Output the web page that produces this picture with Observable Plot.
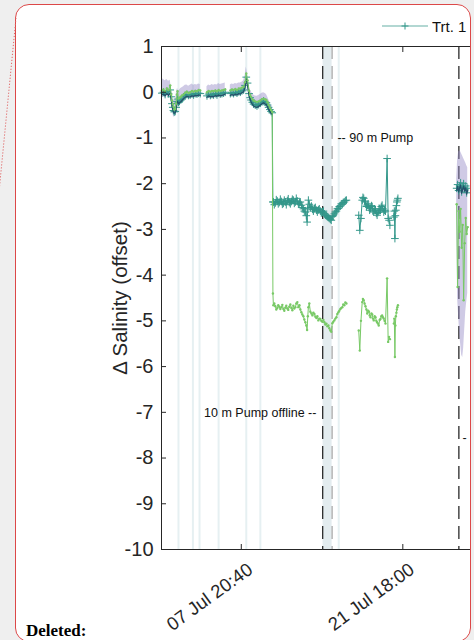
<!DOCTYPE html>
<html>
<head>
<meta charset="utf-8">
<script src="https://cdn.jsdelivr.net/npm/d3@7"></script>
<script src="https://cdn.jsdelivr.net/npm/@observablehq/plot@0.6"></script>
<style>
  html, body { margin: 0; padding: 0; }
  body {
    width: 474px; height: 640px; overflow: hidden; position: relative;
    background: #efefef;
    font-family: "Liberation Sans", Arial, Helvetica, sans-serif;
  }
  #page {
    position: absolute; left: 15px; top: 4px; width: 454px; height: 636px;
    border: 1px solid #dc4848; border-radius: 14px; background: #fff; overflow: hidden;
  }
  #chart, #overlay { position: absolute; left: -16px; top: -5px; width: 480px; }
  #chart svg { max-width: none !important; width: 480px; height: 640px; }
  #connector { position: absolute; left: 0; top: 0; }
</style>
</head>
<body>
<div id="page">
  <div id="chart"></div>
  <svg id="overlay" width="480" height="650"></svg>
</div>
<svg id="connector" width="20" height="200">
  <line x1="16" y1="18" x2="-1" y2="192" stroke="#e06464" stroke-width="1" stroke-dasharray="1.2,1.8"/>
</svg>
<script>
// Time axis: days of July (fractional day-of-month)
const days = [
  1.03,1.17,1.31,1.46,1.60,1.75,1.83,1.90,1.97,2.03,2.10,2.18,2.26,2.33,2.38,2.46,2.55,2.66,2.76,2.90,3.04,3.18,3.33,3.47,3.62,3.76,3.90,4.05,4.19,4.33,
  4.60,
  4.91,5.05,5.20,5.34,5.48,5.63,5.77,5.91,6.05,6.20,6.34,6.48,
  6.70,
  6.92,7.06,7.20,7.35,7.49,7.64,7.78,7.92,8.06,8.18,8.29,8.40,8.53,8.62,8.70,8.81,8.92,9.06,9.21,9.35,9.50,9.64,9.78,9.92,10.02,10.12,10.21,10.32,10.42,10.52,
  10.58,10.62,10.70,10.79,10.87,10.96,11.04,11.13,11.22,11.31,
  11.39,11.48,11.56,11.65,11.73,11.82,11.90,11.99,12.08,12.17,
  12.25,12.34,12.42,12.51,12.59,12.68,12.77,12.86,12.94,13.03,
  13.11,13.20,13.28,13.37,13.45,13.52,13.58,13.63,13.71,13.80,
  13.89,13.98,14.06,14.15,14.23,14.32,14.40,14.49,14.57,14.66,
  14.74,14.83,14.92,15.01,15.09,15.18,15.26,15.35,15.43,15.52,
  15.60,15.69,15.77,15.86,15.95,16.04,16.12,16.21,16.29,16.38,
  16.46,16.55,16.63,16.72,16.81,16.90,
  17.40,
  17.96,18.05,18.15,18.26,18.32,18.39,18.46,18.54,18.62,18.69,
  18.77,18.84,18.90,18.97,19.05,19.12,19.18,19.25,19.33,19.40,
  19.47,19.54,19.61,19.68,19.76,19.83,19.90,19.97,20.04,20.11,
  20.18,20.26,20.40,20.49,20.57,20.64,
  20.80,
  20.98,21.02,21.07,21.11,21.15,21.20,21.24,21.28,21.33,
  24.00,
  26.38,26.46,26.55,26.64,26.72,26.81,26.90,26.98,27.07,27.16,27.24,27.33
];

// Trt. 1 — 90 m intake (null = no data)
const trt90 = [
  -0.02,0.00,-0.05,0.02,-0.03,0.05,-0.10,-0.25,-0.33,-0.40,-0.43,-0.42,-0.33,-0.20,-0.15,-0.22,-0.20,-0.17,-0.15,-0.10,-0.07,-0.05,-0.07,-0.06,-0.04,-0.06,-0.03,-0.04,-0.02,-0.03,
  null,
  -0.08,-0.04,-0.07,-0.05,-0.06,-0.03,-0.06,-0.02,-0.04,-0.03,-0.02,0.00,
  null,
  -0.03,-0.01,-0.03,0.00,-0.02,0.01,0.00,0.03,0.05,0.15,0.33,0.20,-0.03,-0.12,-0.17,-0.22,-0.26,-0.28,-0.30,-0.27,-0.24,-0.21,-0.19,-0.22,-0.23,-0.28,-0.33,-0.38,-0.42,-0.45,
  -2.40,-2.40,-2.46,-2.42,-2.35,-2.38,-2.44,-2.41,-2.34,-2.39,
  -2.45,-2.43,-2.36,-2.40,-2.46,-2.37,-2.33,-2.41,-2.44,-2.39,
  -2.34,-2.36,-2.43,-2.40,-2.32,-2.38,-2.45,-2.42,-2.40,-2.47,
  -2.52,-2.55,-2.60,-2.62,-2.70,-2.84,-2.55,-2.36,-2.45,-2.52,
  -2.49,-2.56,-2.60,-2.54,-2.52,-2.58,-2.62,-2.57,-2.55,-2.60,
  -2.64,-2.62,-2.60,-2.66,-2.69,-2.70,-2.72,-2.74,-2.76,-2.78,
  -2.80,-2.72,-2.70,-2.66,-2.62,-2.60,-2.55,-2.54,-2.50,-2.49,
  -2.44,-2.45,-2.41,-2.40,-2.37,-2.36,
  null,
  -2.69,-3.02,-2.76,-2.36,-2.30,-2.32,-2.38,-2.40,-2.50,-2.47,
  -2.44,-2.52,-2.58,-2.54,-2.48,-2.50,-2.60,-2.62,-2.55,-2.58,
  -2.65,-2.69,-2.63,-2.60,-2.55,-2.58,-2.50,-2.47,-2.55,-2.62,
  -2.58,-2.60,-1.45,-2.76,-2.80,-2.91,
  null,
  -2.73,-2.60,-3.20,-2.70,-2.58,-2.48,-2.40,-2.36,-2.32,
  null,
  -2.10,-2.02,-2.15,-2.05,-1.98,-2.18,-2.08,-2.00,-2.12,-2.05,-2.20,-2.10
];

// 10 m intake
const trt10 = [
  0.04,0.06,0.02,0.08,0.05,0.15,-0.05,-0.18,-0.26,-0.32,-0.38,-0.36,-0.25,-0.05,0.02,-0.14,-0.12,-0.10,-0.07,-0.05,-0.01,0.01,-0.02,0.00,0.03,0.01,0.03,0.02,0.05,0.04,
  null,
  0.00,0.03,0.01,0.03,0.02,0.04,0.02,0.05,0.03,0.04,0.05,0.06,
  null,
  0.04,0.06,0.05,0.07,0.05,0.08,0.08,0.10,0.12,0.22,0.41,0.26,0.03,-0.06,-0.10,-0.15,-0.18,-0.20,-0.21,-0.20,-0.18,-0.15,-0.14,-0.16,-0.17,-0.22,-0.28,-0.34,-0.39,-0.43,
  -4.40,-4.66,-4.62,-4.68,-4.75,-4.72,-4.66,-4.69,-4.74,-4.70,
  -4.65,-4.74,-4.78,-4.71,-4.67,-4.73,-4.76,-4.69,-4.64,-4.72,
  -4.77,-4.67,-4.73,-4.70,-4.62,-4.59,-4.70,-4.66,-4.75,-4.81,
  -4.86,-4.90,-4.97,-5.03,-5.10,-5.20,-4.90,-4.70,-4.62,-4.80,
  -4.84,-4.88,-4.82,-4.85,-4.91,-4.94,-4.90,-4.99,-4.95,-4.96,
  -5.00,-5.02,-4.98,-5.03,-5.08,-5.06,-5.12,-5.10,-5.16,-5.21,
  -5.24,-5.05,-5.02,-4.99,-4.95,-4.92,-4.85,-4.81,-4.78,-4.74,
  -4.72,-4.70,-4.64,-4.66,-4.60,-4.62,
  null,
  -5.21,-5.65,-5.00,-4.59,-4.52,-4.55,-4.62,-4.68,-4.75,-4.84,
  -4.78,-4.80,-4.88,-4.92,-4.84,-4.86,-4.95,-4.99,-4.90,-4.92,
  -5.00,-5.03,-5.06,-5.10,-4.98,-4.96,-4.90,-4.88,-4.92,-4.95,
  -5.00,-5.06,-4.07,-5.46,-5.35,-5.40,
  null,
  -5.06,-4.95,-5.79,-5.10,-4.90,-4.82,-4.75,-4.70,-4.66,
  null,
  -2.45,-4.26,-2.60,-3.05,-2.55,-3.40,-2.90,-4.55,-3.30,-2.75,-3.10,-2.95
];

// Reference sensor and spread envelope (shaded)
const shadeDays = [
  1.03,1.17,1.31,1.46,1.60,1.75,1.83,1.90,1.97,2.03,2.10,2.18,2.26,2.33,2.38,2.46,2.55,2.66,2.76,2.90,3.04,3.18,3.33,3.47,3.62,3.76,3.90,4.05,4.19,4.33,
  4.60,
  4.91,5.05,5.20,5.34,5.48,5.63,5.77,5.91,6.05,6.20,6.34,6.48,
  6.70,
  6.92,7.06,7.20,7.35,7.49,7.64,7.78,7.92,8.06,8.18,8.29,8.40,8.53,8.62,8.70,8.81,8.92,9.06,9.21,9.35,9.50,9.64,9.78,9.92,10.02,10.12,10.21,10.32,10.42,10.52,
  18.00,
  26.38,26.46,26.55,26.64,26.72,26.81,26.90,26.98,27.07,27.16,27.24,27.33
];
const navy = [
  -0.05,-0.04,-0.08,-0.03,-0.07,-0.02,-0.14,-0.29,-0.37,-0.43,-0.46,-0.45,-0.37,-0.24,-0.20,-0.25,-0.23,-0.21,-0.18,-0.14,-0.11,-0.09,-0.10,-0.10,-0.08,-0.09,-0.07,-0.08,-0.06,-0.07,
  null,
  -0.11,-0.08,-0.10,-0.09,-0.10,-0.07,-0.09,-0.06,-0.08,-0.07,-0.06,-0.04,
  null,
  -0.07,-0.05,-0.07,-0.04,-0.06,-0.03,-0.04,-0.01,0.01,0.10,0.28,0.15,-0.07,-0.16,-0.21,-0.26,-0.30,-0.32,-0.33,-0.31,-0.28,-0.25,-0.23,-0.26,-0.27,-0.32,-0.37,-0.42,-0.46,-0.48,
  null,
  -2.14,-2.06,-2.18,-2.09,-2.03,-2.21,-2.12,-2.05,-2.16,-2.09,-2.23,-2.14
];
const shadeHi = [
  0.30,0.28,0.25,0.28,0.24,0.26,0.12,0.00,-0.08,-0.14,-0.20,-0.18,-0.05,0.05,0.08,0.02,0.05,0.08,0.10,0.12,0.15,0.16,0.13,0.15,0.18,0.15,0.17,0.16,0.18,0.17,
  null,
  0.12,0.16,0.14,0.17,0.15,0.17,0.16,0.19,0.17,0.18,0.19,0.20,
  null,
  0.16,0.18,0.17,0.19,0.18,0.20,0.20,0.22,0.25,0.35,0.55,0.40,0.15,0.06,0.02,-0.03,-0.06,-0.08,-0.09,-0.07,-0.05,-0.02,-0.01,-0.03,-0.05,-0.10,-0.16,-0.22,-0.28,-0.32,
  null,
  -1.90,-1.50,-1.30,-1.28,-1.30,-1.35,-1.40,-1.45,-1.50,-1.55,-1.60,-1.65
];
const shadeLo = [
  -0.12,-0.10,-0.12,-0.06,-0.10,-0.08,-0.20,-0.35,-0.45,-0.52,-0.55,-0.52,-0.42,-0.30,-0.25,-0.30,-0.28,-0.25,-0.22,-0.18,-0.14,-0.12,-0.14,-0.13,-0.11,-0.13,-0.10,-0.11,-0.09,-0.10,
  null,
  -0.15,-0.11,-0.14,-0.12,-0.13,-0.10,-0.13,-0.09,-0.11,-0.10,-0.09,-0.07,
  null,
  -0.10,-0.08,-0.10,-0.07,-0.09,-0.06,-0.07,-0.04,-0.02,0.08,0.25,0.12,-0.10,-0.19,-0.24,-0.29,-0.33,-0.35,-0.37,-0.34,-0.31,-0.28,-0.26,-0.29,-0.30,-0.35,-0.40,-0.45,-0.49,-0.52,
  null,
  -2.70,-4.50,-4.90,-5.30,-5.50,-5.75,-5.80,-5.60,-5.20,-4.80,-4.60,-4.40
];

// Events
const eventDays = [2.46, 3.70, 4.27, 5.91, 8.29, 9.50, 16.24];
const offlineWindow = [14.89, 15.67];
const pumpDays = [14.86, 26.57];
const notes = [
  {day: 16.13, value: -1.01, label: "-- 90 m Pump", anchor: "start"},
  {day: 14.32, value: -7.02, label: "10 m Pump offline --", anchor: "end"},
  {day: 26.89, value: -7.57, label: "-", anchor: "start"}
];

// Axis ticks
const yTicks = [1, 0, -1, -2, -3, -4, -5, -6, -7, -8, -9, -10];
const xTickDays = [7 + (20 * 60 + 40) / 1440, 21 + 18 / 24];
const seriesNames = ["Trt. 1"];

const FONT = '"Liberation Sans", Arial, Helvetica, sans-serif';
const teal = "#33978a", green = "#78c966", navyColor = "#23506a", purple = "#9489c6";

const t0 = Date.UTC(2021, 6, 1);
const toDate = d => new Date(t0 + (d - 1) * 864e5);
const fmt = d3.utcFormat("%d %b %H:%M");

const main = days.map((d, i) => ({t: toDate(d), a: trt90[i], b: trt10[i]}));
const shade = shadeDays.map((d, i) => ({t: toDate(d), n: navy[i], hi: shadeHi[i], lo: shadeLo[i]}));
const xTicks = xTickDays.map(toDate);

const chart = Plot.plot({
  width: 480,
  height: 640,
  marginLeft: 161,
  marginRight: 5,
  marginTop: 46,
  marginBottom: 91,
  style: {fontFamily: FONT, fontSize: "20px", color: "#262626", background: "transparent", overflow: "visible"},
  x: {type: "utc", domain: [toDate(1), toDate(28)]},
  y: {domain: [-10, 1]},
  marks: [
    Plot.rect([offlineWindow], {x1: d => toDate(d[0]), x2: d => toDate(d[1]), fill: "#e3ecef"}),
    Plot.ruleX(eventDays, {x: d => toDate(d), stroke: "#e6f0f2", strokeWidth: 2}),
    Plot.ruleX([offlineWindow[1]], {x: d => toDate(d), stroke: "#a3a3a3", strokeWidth: 1.2, strokeDasharray: "13,7"}),
    Plot.ruleX(pumpDays, {x: d => toDate(d), stroke: "#2a2a2a", strokeWidth: 1.3, strokeDasharray: "13,7"}),
    Plot.areaY(shade, {x: "t", y1: "lo", y2: "hi", fill: purple, fillOpacity: 0.45}),
    Plot.line(main, {x: "t", y: "a", stroke: teal, strokeWidth: 1}),
    Plot.dot(main, {x: "t", y: "a", symbol: "plus", r: 2.6, stroke: teal, fill: "none", strokeWidth: 1}),
    Plot.line(shade, {x: "t", y: "n", stroke: navyColor, strokeWidth: 1.3}),
    Plot.line(main, {x: "t", y: "b", stroke: green, strokeWidth: 1}),
    Plot.dot(main, {x: "t", y: "b", r: 1.2, fill: green, stroke: "none"}),
    Plot.text(notes.filter(n => n.anchor === "start"), {x: d => toDate(d.day), y: "value", text: "label", textAnchor: "start", fontSize: 12.5, fill: "#111"}),
    Plot.text(notes.filter(n => n.anchor === "end"), {x: d => toDate(d.day), y: "value", text: "label", textAnchor: "end", fontSize: 12.5, fill: "#111"}),
    Plot.text(["Δ Salinity (offset)"], {frameAnchor: "left", textAnchor: "middle", dx: -41, rotate: -90, fontSize: 20.5, fill: "#262626"}),
    Plot.axisY({ticks: yTicks, tickSize: -5, tickPadding: 13, tickFormat: d => String(d), label: null, fontSize: 20, stroke: "#262626"}),
    Plot.axisX({anchor: "bottom", ticks: xTicks, tickSize: -5, tickFormat: () => "", label: null, stroke: "#262626"}),
    Plot.axisX({anchor: "top", ticks: xTicks, tickSize: -5, tickFormat: () => "", label: null, stroke: "#262626"}),
    Plot.text(xTicks, {x: d => d, frameAnchor: "bottom", text: d => fmt(d), rotate: -36, textAnchor: "end", lineAnchor: "top", dx: 5, dy: 12, fontSize: 18.5, fill: "#262626"}),
    Plot.frame({stroke: "#262626", strokeWidth: 1})
  ]
});
document.getElementById("chart").append(chart);

// Legend and page note
const overlay = d3.select("#overlay");
const lg = overlay.append("g").attr("font-family", FONT);
seriesNames.forEach((name, i) => {
  const y = 26 + i * 20;
  lg.append("line").attr("x1", 382).attr("x2", 428).attr("y1", y).attr("y2", y)
    .attr("stroke", teal).attr("stroke-opacity", 0.75).attr("stroke-width", 1.2);
  lg.append("path").attr("d", `M401.5,${y}h7M405,${y - 3.5}v7`).attr("stroke", teal).attr("stroke-width", 1);
  lg.append("text").attr("x", 432).attr("y", y + 5.5).attr("font-size", 15).attr("fill", "#111").text(name);
});
overlay.append("text").attr("x", 26).attr("y", 636)
  .attr("font-family", '"Liberation Serif", "Times New Roman", serif')
  .attr("font-weight", "bold").attr("font-size", 17).attr("fill", "#000").text("Deleted:");
</script>
</body>
</html>
